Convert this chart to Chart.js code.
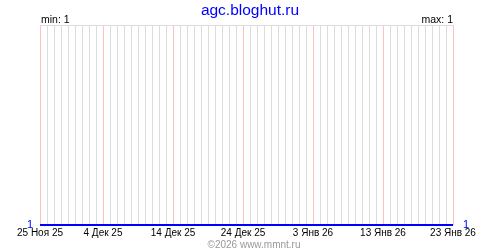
<!DOCTYPE html>
<html>
<head>
<meta charset="utf-8">
<script src="https://cdn.jsdelivr.net/npm/chart.js@4/dist/chart.umd.min.js"></script>
<style>
html,body{margin:0;padding:0;background:#fff;}
#wrap{width:500px;height:250px;position:relative;}
</style>
</head>
<body>
<div id="wrap"><canvas id="c" width="500" height="250"></canvas></div>
<script>
const siteTitle = 'agc.bloghut.ru';
const footerText = '©2026 www.mmnt.ru';
const categories = [
 '25 Ноя 25','26 Ноя 25','27 Ноя 25','28 Ноя 25','29 Ноя 25','30 Ноя 25',
 '1 Дек 25','2 Дек 25','3 Дек 25','4 Дек 25','5 Дек 25','6 Дек 25','7 Дек 25','8 Дек 25','9 Дек 25','10 Дек 25',
 '11 Дек 25','12 Дек 25','13 Дек 25','14 Дек 25','15 Дек 25','16 Дек 25','17 Дек 25','18 Дек 25','19 Дек 25','20 Дек 25',
 '21 Дек 25','22 Дек 25','23 Дек 25','24 Дек 25','25 Дек 25','26 Дек 25','27 Дек 25','28 Дек 25','29 Дек 25','30 Дек 25','31 Дек 25',
 '1 Янв 26','2 Янв 26','3 Янв 26','4 Янв 26','5 Янв 26','6 Янв 26','7 Янв 26','8 Янв 26','9 Янв 26','10 Янв 26',
 '11 Янв 26','12 Янв 26','13 Янв 26','14 Янв 26','15 Янв 26','16 Янв 26','17 Янв 26','18 Янв 26','19 Янв 26','20 Янв 26',
 '21 Янв 26','22 Янв 26','23 Янв 26'
];
const values = [
 1,1,1,1,1,1,
 1,1,1,1,1,1,1,1,1,1,
 1,1,1,1,1,1,1,1,1,1,
 1,1,1,1,1,1,1,1,1,1,1,
 1,1,1,1,1,1,1,1,1,1,
 1,1,1,1,1,1,1,1,1,1,
 1,1,1
];
const tickLabels = ['25 Ноя 25','4 Дек 25','14 Дек 25','24 Дек 25','3 Янв 26','13 Янв 26','23 Янв 26'];
const yMin = 1, yMax = 2;

const minV = Math.min(...values), maxV = Math.max(...values);
const lastV = values[values.length - 1], firstV = values[0];

const textPlugin = {
  id: 'texts',
  afterDraw(chart) {
    const ctx = chart.ctx, a = chart.chartArea;
    ctx.save();
    ctx.fillStyle = '#0000ff';
    ctx.font = '15.5px "Liberation Sans", Arial, sans-serif';
    ctx.textAlign = 'center';
    ctx.textBaseline = 'alphabetic';
    ctx.fillText(siteTitle, 250, 15);
    ctx.fillStyle = '#000';
    ctx.font = '10.5px "Liberation Sans", Arial, sans-serif';
    ctx.textAlign = 'left';
    ctx.fillText('min: ' + minV, a.left + 1, 23);
    ctx.textAlign = 'right';
    ctx.fillText('max: ' + maxV, a.right, 23);
    ctx.fillStyle = '#999999';
    ctx.font = '10px "Liberation Sans", Arial, sans-serif';
    ctx.textAlign = 'center';
    ctx.fillText(footerText, 254, 248);
    ctx.restore();
  }
};

new Chart(document.getElementById('c'), {
  type: 'line',
  data: {
    labels: categories,
    datasets: [{
      data: values,
      borderColor: '#0000ff',
      borderWidth: 2,
      pointRadius: 0,
      tension: 0,
      fill: false,
      clip: 4
    }]
  },
  options: {
    responsive: false,
    animation: false,
    events: [],
    layout: { padding: { left: 0, right: 0, top: 25, bottom: 0 } },
    plugins: { legend: { display: false }, tooltip: { enabled: false }, title: { display: false } },
    scales: {
      x: {
        type: 'category',
        offset: false,
        border: { display: false },
        grid: {
          offset: false,
          drawTicks: false,
          lineWidth: 1,
          color: (c) => tickLabels.includes(categories[c.index]) ? '#ffc0c0' : '#dcdcdc'
        },
        ticks: {
          autoSkip: false,
          maxRotation: 0,
          minRotation: 0,
          padding: 2,
          color: '#000',
          font: { family: '"Liberation Sans", Arial, sans-serif', size: 10 },
          callback: function(v, i) { const l = categories[i]; return tickLabels.includes(l) ? l : ''; }
        },
        afterFit: (s) => { s.height = 25; }
      },
      y: {
        position: 'left',
        min: yMin,
        max: yMax,
        border: { display: false },
        grid: { drawTicks: false, color: '#dcdcdc', lineWidth: 1 },
        ticks: {
          stepSize: 1,
          padding: 7,
          color: '#0000ff',
          font: { family: '"Liberation Sans", Arial, sans-serif', size: 11 },
          callback: (v) => v === firstV ? String(firstV) : ''
        },
        afterFit: (s) => { s.width = 40; }
      },
      y2: {
        position: 'right',
        min: yMin,
        max: yMax,
        border: { display: false },
        grid: { display: false, drawTicks: false },
        ticks: {
          stepSize: 1,
          padding: 10,
          color: '#0000ff',
          font: { family: '"Liberation Sans", Arial, sans-serif', size: 11 },
          callback: (v) => v === lastV ? String(lastV) : ''
        },
        afterFit: (s) => { s.width = 47; }
      }
    }
  },
  plugins: [textPlugin]
});
</script>
</body>
</html>
